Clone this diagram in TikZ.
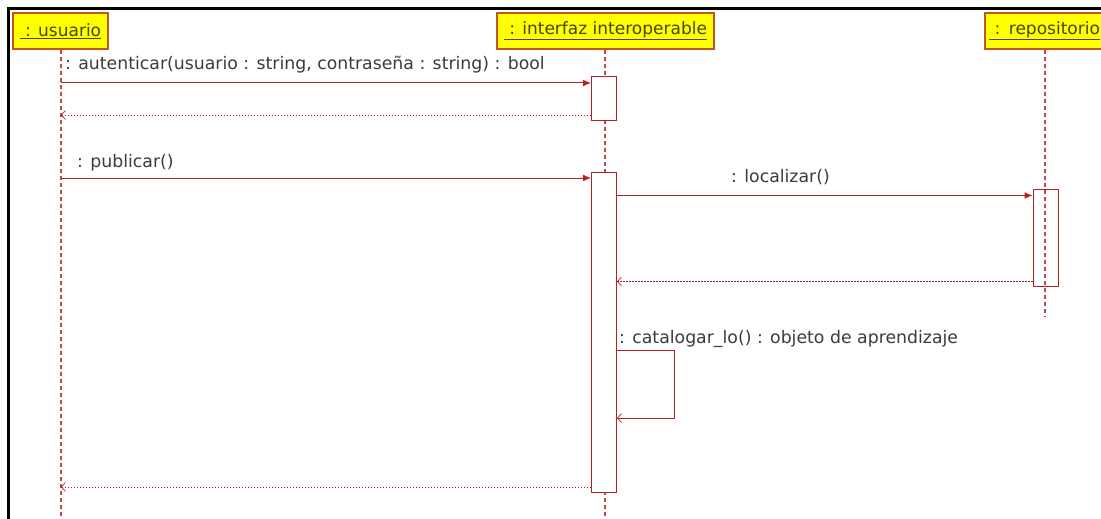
\documentclass[tikz,border=0pt]{standalone}
\usepackage{fontspec}
\setmainfont{DejaVu Sans}
\usetikzlibrary{arrows.meta}
\definecolor{umlred}{RGB}{185,30,35}
\definecolor{lifered}{RGB}{185,75,75}
\definecolor{boxborder}{RGB}{195,85,35}
\definecolor{boxfill}{RGB}{255,255,0}
\definecolor{txt}{RGB}{60,60,60}
\definecolor{ultxt}{RGB}{70,70,20}
\tikzset{
  objbox/.style={draw=boxborder, fill=boxfill, line width=1.4pt, minimum height=36pt, inner sep=0pt,
    text=ultxt, font=\fontsize{17}{20}\selectfont},
  lifeline/.style={draw=lifered, line width=1.1pt, dash pattern=on 4pt off 3pt},
  act/.style={draw=umlred, fill=white, line width=1pt, minimum width=25pt, inner sep=0pt},
  actclear/.style={draw=umlred, line width=1pt, minimum width=25pt, inner sep=0pt},
  msg/.style={draw=umlred, line width=1pt, -{Latex[length=8pt,width=7pt]}},
  retmsg/.style={draw=umlred, line width=0.9pt, dash pattern=on 1.3pt off 1.7pt,
    -{Straight Barb[length=4pt,width=9pt,line width=0.7pt]}},
  selfmsg/.style={draw=umlred, line width=1pt, -{Straight Barb[length=4pt,width=9pt,line width=0.7pt]}},
  lbl/.style={text=txt, font=\fontsize{17.3}{20}\selectfont, inner sep=0pt, anchor=base west},
}
\begin{document}
\begin{tikzpicture}[x=1pt,y=-1pt]
\useasboundingbox (0,0) rectangle (1101,519);
\fill[white] (0,0) rectangle (1101,519);
\draw[line width=3pt] (8.5,519) -- (8.5,9) -- (1101,9);

% objects
\node[objbox, minimum width=95pt] (usuario) at (60.5,31) {\underline{\ : usuario}};
\node[objbox, minimum width=217pt] (interfaz) at (605.5,31) {\underline{\ : interfaz interoperable}};
\node[objbox, minimum width=120pt, text width=112pt, align=left] (repo) at (1045,31) {\underline{\ : repositorio}};

% lifelines
\coordinate (uend) at (61,519);
\coordinate (iend) at (605,519);
\coordinate (rend) at (1045,316);
\draw[lifeline] (usuario.south -| uend) -- (uend);
\draw[lifeline] (interfaz.south -| iend) -- (iend);
\draw[lifeline] (repo.south -| rend) -- (rend);

% activations
\node[act, minimum height=43pt] (act1) at (604,98.5) {};
\node[act, minimum height=320pt] (act2) at (604,332.5) {};
\node[actclear, minimum height=97pt] (act3) at (1045.5,237.5) {};

% message 1
\coordinate (m1s) at (61,83);
\draw[msg] (m1s) -- (act1.west |- m1s);
\node[lbl] (l1) at (65,70) {: autenticar(usuario : string, contraseña : string) : bool};
\coordinate (r1e) at (61,115);
\draw[retmsg] (act1.west |- r1e) -- (r1e);

% message 2
\coordinate (m2s) at (61,178);
\draw[msg] (m2s) -- (act2.west |- m2s);
\node[lbl] (l2) at (77,167) {: publicar()};

% message 3
\coordinate (m3s) at (617,195.5);
\draw[msg] (act2.east |- m3s) -- (act3.west |- m3s);
\node[lbl] (l3) at (731,182) {: localizar()};
\coordinate (r3e) at (617,281.5);
\draw[retmsg] (act3.west |- r3e) -- (act2.east |- r3e);

% self message
\coordinate (s1) at (617,350.5);
\coordinate (s2) at (674,350.5);
\coordinate (s3) at (674,418);
\coordinate (s4) at (617,418);
\draw[selfmsg] (act2.east |- s1) -- (s2) -- (s3) -- (act2.east |- s4);
\node[lbl] (l4) at (619,343) {: catalogar\_lo() : objeto de aprendizaje};

% final return
\coordinate (r4e) at (61,487);
\draw[retmsg] (act2.west |- r4e) -- (r4e);
\end{tikzpicture}
\end{document}
